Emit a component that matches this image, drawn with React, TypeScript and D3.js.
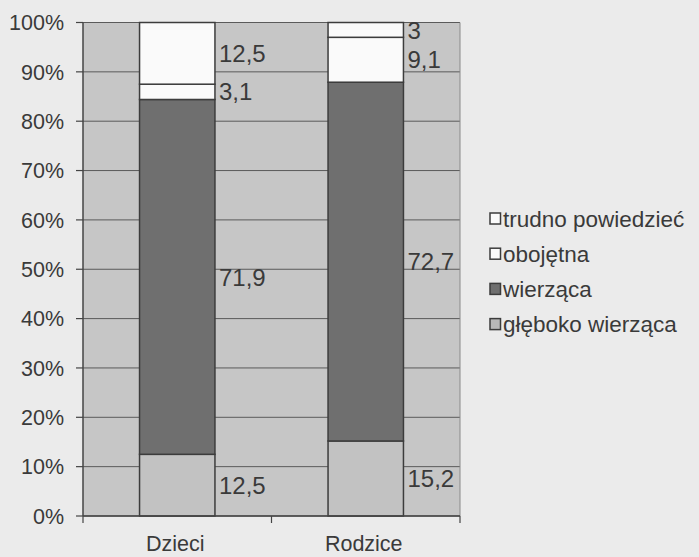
import React, { useEffect } from "react";
import * as d3 from "d3";

const categories = ["Dzieci", "Rodzice"];
const seriesNames = ["głęboko wierząca", "wierząca", "obojętna", "trudno powiedzieć"];
const glebokoWierzaca = [12.5, 15.2];
const wierzaca = [71.9, 72.7];
const obojetna = [3.1, 9.1];
const trudnoPowiedziec = [12.5, 3];
const valueLabels = [
  ["12,5", "71,9", "3,1", "12,5"],
  ["15,2", "72,7", "9,1", "3"],
];
const yTicks = [0, 10, 20, 30, 40, 50, 60, 70, 80, 90, 100];

const W = 699;
const H = 557;
const margin = { left: 83, right: 239, top: 22.5, bottom: 41 };
const colors = ["#c2c2c2", "#6f6f6f", "#fafafa", "#fafafa"];
const FONT = "'Liberation Sans', Arial, Helvetica, sans-serif";

export default function App() {
  useEffect(() => {
    document.body.style.margin = "0";
    document.body.style.background = "#ebebeb";
  }, []);

  const x0 = margin.left;
  const x1 = W - margin.right;
  const yBottom = H - margin.bottom;
  const x = d3.scaleBand<string>().domain(categories).range([x0, x1]).paddingInner(0.6).paddingOuter(0.3);
  const y = d3.scaleLinear().domain([0, 100]).range([yBottom, margin.top]);

  const series = [glebokoWierzaca, wierzaca, obojetna, trudnoPowiedziec];
  const rows = categories.map((c, i) => {
    const o: any = { cat: c };
    seriesNames.forEach((s, k) => (o[s] = series[k][i]));
    return o;
  });
  const stacked = d3.stack<any>().keys(seriesNames)(rows);

  const legendOrder = [3, 2, 1, 0];
  const catTicks = d3.range(categories.length + 1).map((i) => x0 + (i * (x1 - x0)) / categories.length);

  return (
    <svg width={W} height={H} style={{ display: "block", background: "#ebebeb" }} fontFamily={FONT}>
      <rect x={x0} y={y(100)} width={x1 - x0} height={yBottom - y(100)} fill="#c6c6c6" />
      {yTicks.map((t) => (
        <g key={t}>
          <line x1={x0} x2={x1} y1={y(t)} y2={y(t)} stroke="#5a5a5a" strokeWidth={1} />
          <line x1={x0 - 7} x2={x0} y1={y(t)} y2={y(t)} stroke="#444" strokeWidth={1.2} />
          <text x={64} y={y(t)} dy="0.36em" textAnchor="end" fontSize={21.5} fill="#3a3a3a">
            {t}%
          </text>
        </g>
      ))}
      <line x1={x1} x2={x1} y1={y(100)} y2={yBottom} stroke="#8a8a8a" strokeWidth={1} />
      {stacked.map((layer, k) => (
        <g key={layer.key}>
          {layer.map((d, i) => (
            <rect
              key={i}
              x={x(categories[i])!}
              y={y(d[1])}
              width={x.bandwidth()}
              height={y(d[0]) - y(d[1])}
              fill={colors[k]}
              stroke="#3c3c3c"
              strokeWidth={1.5}
            />
          ))}
        </g>
      ))}
      {stacked.map((layer, k) => (
        <g key={"l" + layer.key}>
          {layer.map((d, i) => (
            <text
              key={i}
              x={x(categories[i])! + x.bandwidth() + 4}
              y={(y(d[0]) + y(d[1])) / 2}
              dy="0.36em"
              fontSize={24}
              fill="#3a3a3a"
            >
              {valueLabels[i][k]}
            </text>
          ))}
        </g>
      ))}
      <line x1={x0} x2={x0} y1={y(100)} y2={yBottom} stroke="#444" strokeWidth={1.5} />
      <line x1={x0} x2={x1} y1={yBottom} y2={yBottom} stroke="#444" strokeWidth={1.5} />
      {catTicks.map((tx, i) => (
        <line key={i} x1={tx} x2={tx} y1={yBottom} y2={yBottom + 7} stroke="#444" strokeWidth={1.2} />
      ))}
      {categories.map((c) => (
        <text key={c} x={x(c)! + x.bandwidth() / 2 - 2} y={551} textAnchor="middle" fontSize={21.5} fill="#3a3a3a">
          {c}
        </text>
      ))}
      {legendOrder.map((k, j) => {
        const cy = 218.5 + j * 35.2;
        return (
          <g key={k}>
            <rect x={490} y={cy - 5.5} width={10.5} height={11} fill={k === 0 ? "#b8b8b8" : colors[k]} stroke="#3c3c3c" strokeWidth={1.5} />
            <text x={503} y={cy} dy="0.36em" fontSize={22.5} fill="#3a3a3a">
              {seriesNames[k]}
            </text>
          </g>
        );
      })}
    </svg>
  );
}
